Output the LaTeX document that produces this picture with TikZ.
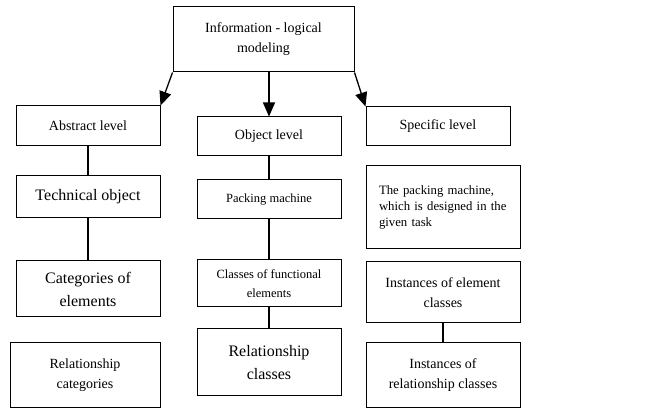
\documentclass[tikz,border=0pt]{standalone}
\usepackage{fontspec}
\setmainfont{Liberation Serif}
\usetikzlibrary{arrows.meta}
\tikzset{
  box/.style={draw, line width=1pt, inner sep=2pt, align=center},
  small/.style={font=\fontsize{12.5}{19}\selectfont},
  medium/.style={font=\fontsize{14}{20}\selectfont},
  large/.style={font=\fontsize{16}{23}\selectfont},
  link/.style={line width=1.3pt},
  arr/.style={line width=1.3pt, -{Triangle[length=14pt,width=12pt]}}
}
\begin{document}
\begin{tikzpicture}[x=1pt,y=-1pt]
\useasboundingbox (0,0) rectangle (662,411);
% top
\node[box,medium,minimum width=181pt,minimum height=65pt] (info) at (263.5,39.5) {Information - logical\\modeling};
% levels
\node[box,medium,minimum width=144pt,minimum height=40pt] (abs) at (88,126) {Abstract level};
\node[box,medium,minimum width=144pt,minimum height=39pt] (obj) at (269,136.5) {Object level};
\node[box,medium,minimum width=144pt,minimum height=39pt] (spec) at (438,126.5) {Specific level};
% abstract column
\node[box,large,minimum width=144pt,minimum height=42pt] (tech) at (88,197) {Technical object};
\node[box,large,minimum width=144pt,minimum height=56pt] (cat) at (88,289) {Categories of\\elements};
\node[box,medium,minimum width=150pt,minimum height=65pt] (relcat) at (85,375.5) {Relationship\\categories};
% object column
\node[box,small,minimum width=144pt,minimum height=39pt] (pack) at (269,199.5) {Packing machine};
\node[box,small,minimum width=144pt,minimum height=47pt] (cls) at (269,283.5) {Classes of functional\\elements};
\node[box,large,minimum width=144pt,minimum height=67pt] (relcls) at (269,362.5) {Relationship\\classes};
% specific column
\node[box,align=left,text width=128pt,minimum width=154pt,minimum height=83pt,
  font=\fontsize{12.75}{16}\selectfont] (task) at (443,207.5) {The packing machine,\\which is designed in the\\given task};
\node[box,medium,minimum width=154pt,minimum height=61pt] (inst) at (443,292.5) {Instances of element\\classes};
\node[box,medium,minimum width=154pt,minimum height=65pt] (relinst) at (443,375.5) {Instances of\\relationship classes};
% arrows
\draw[arr] (info.south west) -- (abs.north east);
\draw[arr] (info.south -| obj.north) -- (obj.north);
\draw[arr] (info.south east) -- (spec.north west);
% links
\draw[link] (abs) -- (tech);
\draw[link] (tech) -- (cat);
\draw[link] (obj) -- (pack);
\draw[link] (pack) -- (cls);
\draw[link] (cls) -- (relcls);
\draw[link] (inst) -- (relinst);
\end{tikzpicture}
\end{document}
